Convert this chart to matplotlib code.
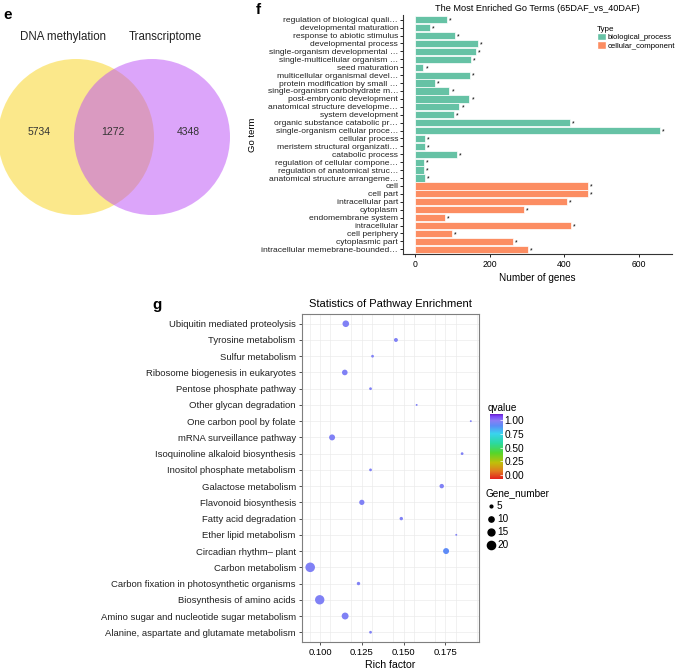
import numpy as np
import matplotlib
matplotlib.use('Agg')
import matplotlib.pyplot as plt
from matplotlib.patches import Circle, Patch
from matplotlib.lines import Line2D
from matplotlib.colors import LinearSegmentedColormap, Normalize
from matplotlib.cm import ScalarMappable

plt.rcParams['font.family'] = ['Liberation Sans', 'DejaVu Sans']

# ---- data ----
venn_names = ['DNA methylation', 'Transcriptome']
venn_counts = [5734, 1272, 4348]   # only A, A&B, only B

go_terms = ['regulation of biological quali…', 'developmental maturation',
            'response to abiotic stimulus', 'developmental process',
            'single-organism developmental …', 'single-multicellular organism …',
            'seed maturation', 'multicellular organismal devel…',
            'protein modification by small …', 'single-organism carbohydrate m…',
            'post-embryonic development', 'anatomical structure developme…',
            'system development', 'organic substance catabolic pr…',
            'single-organism cellular proce…', 'cellular process',
            'meristem structural organizati…', 'catabolic process',
            'regulation of cellular compone…', 'regulation of anatomical struc…',
            'anatomical structure arrangeme…',
            'cell', 'cell part', 'intracellular part', 'cytoplasm',
            'endomembrane system', 'intracellular', 'cell periphery',
            'cytoplasmic part', 'intracellular memebrane-bounded…']
go_counts = [85, 39, 107, 167, 163, 149, 22, 147, 52, 91, 145, 118, 104,
             414, 656, 26, 26, 112, 23, 23, 25,
             464, 464, 407, 291, 80, 418, 98, 262, 303]
go_types = ['biological_process'] * 21 + ['cellular_component'] * 9

pathways = ['Ubiquitin mediated proteolysis', 'Tyrosine metabolism',
            'Sulfur metabolism', 'Ribosome biogenesis in eukaryotes',
            'Pentose phosphate pathway', 'Other glycan degradation',
            'One carbon pool by folate', 'mRNA surveillance pathway',
            'Isoquinoline alkaloid biosynthesis', 'Inositol phosphate metabolism',
            'Galactose metabolism', 'Flavonoid biosynthesis',
            'Fatty acid degradation', 'Ether lipid metabolism',
            'Circadian rhythm\u2013 plant', 'Carbon metabolism',
            'Carbon fixation in photosynthetic organisms',
            'Biosynthesis of amino acids',
            'Amino sugar and nucleotide sugar metabolism',
            'Alanine, aspartate and glutamate metabolism']
rich_factor = [0.1154, 0.1454, 0.1314, 0.1148, 0.1302, 0.1578, 0.1902, 0.1072,
               0.1850, 0.1302, 0.1728, 0.1250, 0.1486, 0.1815, 0.1754, 0.0941,
               0.1230, 0.0998, 0.1150, 0.1302]
gene_number = [14, 7, 5, 11, 5, 4, 4, 12, 5, 5, 8, 10, 6, 4, 12, 26, 6, 25, 15, 5]
qvalue = [0.97, 0.97, 0.97, 0.97, 0.97, 0.97, 0.97, 0.97, 0.97, 0.97,
          0.97, 0.97, 0.97, 0.97, 0.90, 0.97, 0.97, 0.97, 0.97, 0.97]
size_breaks = [5, 10, 15, 20]

# ---- layout helpers (pixel boxes) ----
W, H = 677, 670
fig = plt.figure(figsize=(W / 100, H / 100), dpi=100)


def box(l, t, r, b):
    return [l / W, 1 - b / H, (r - l) / W, (b - t) / H]


def fx(x):
    return x / W


def fy(y):
    return 1 - y / H


# ================= e: venn =================
ax = fig.add_axes(box(0, 0, 330, 290))
ax.set_xlim(0, 330)
ax.set_ylim(290, 0)
ax.axis('off')
r = 78
ax.add_patch(Circle((76, 137), r, facecolor='#F9D319', alpha=0.5, lw=0))
ax.add_patch(Circle((152, 137), r, facecolor='#BB4DF7', alpha=0.5, lw=0))
ax.text(63, 37, venn_names[0], ha='center', va='center', fontsize=8.3, color='#222222')
ax.text(165, 37, venn_names[1], ha='center', va='center', fontsize=8.3, color='#222222')
for xpos, n in zip([39, 113, 188], venn_counts):
    ax.text(xpos, 132, str(n), ha='center', va='center', fontsize=7.5, color='#333333')
fig.text(fx(3), fy(15), 'e', fontsize=11, fontweight='bold', va='center')

# ================= f: GO bars =================
type_colors = {'biological_process': '#66C2A5', 'cellular_component': '#FC8D62'}
axf = fig.add_axes(box(403, 15, 672, 254))
yy = np.arange(len(go_terms))
axf.barh(yy, go_counts, height=0.92, color=[type_colors[t] for t in go_types],
         edgecolor='white', linewidth=0.5)
for yi, v in zip(yy, go_counts):
    axf.text(v + 6, yi + 0.15, '*', fontsize=5, va='center', ha='left')
axf.set_ylim(len(go_terms) - 0.4, -0.6)
axf.set_xlim(-33, 689)
axf.set_yticks(yy)
axf.set_yticklabels(go_terms, fontsize=6.1, color='#222222')
axf.set_xticks([0, 200, 400, 600])
axf.tick_params(axis='x', labelsize=6.2, length=2, width=0.6, pad=2)
axf.tick_params(axis='y', length=2, width=0.6, pad=1.5)
for s in ['top', 'right']:
    axf.spines[s].set_visible(False)
for s in ['left', 'bottom']:
    axf.spines[s].set_linewidth(0.8)
    axf.spines[s].set_color('#333333')
axf.set_xlabel('Number of genes', fontsize=7.2, labelpad=3)
axf.set_ylabel('Go term', fontsize=6.8, labelpad=3)
axf.set_title('The Most Enriched Go Terms (65DAF_vs_40DAF)', fontsize=6.6, pad=3)
handles = [Patch(facecolor=type_colors[k], edgecolor='white', label=k) for k in type_colors]
fig.legend(handles=handles, title='Type', loc='upper left',
           bbox_to_anchor=(fx(597), fy(26)), frameon=False, fontsize=5.6,
           title_fontsize=5.8, handlelength=1.1, handleheight=1.1, labelspacing=0,
           handletextpad=0.3, borderpad=0, borderaxespad=0, alignment='left')
fig.text(fx(256), fy(10), 'f', fontsize=11, fontweight='bold', va='center')

# ================= g: pathway bubbles =================
colors = [(0.00, '#E3231E'), (0.12, '#E07B1F'), (0.25, '#BFBF0A'),
          (0.40, '#55D62A'), (0.55, '#2BD9A0'), (0.70, '#39D3EE'),
          (0.82, '#5C8CF7'), (0.90, '#8A7EF4'), (0.97, '#7A42F8'),
          (1.00, '#6A1FC8')]
cmap = LinearSegmentedColormap.from_list('q', colors)
norm = Normalize(vmin=-0.067, vmax=1.108)


def dot_size(g):
    d_px = 2.0 * np.sqrt(np.asarray(g, float) - 3.1)
    return (d_px * 0.72) ** 2


axg = fig.add_axes(box(302, 314, 478.5, 642))
yg = np.arange(len(pathways))
axg.scatter(rich_factor, yg, s=dot_size(gene_number), c=qvalue, cmap=cmap,
            norm=norm, linewidths=0, zorder=3)
axg.set_ylim(len(pathways) - 0.4, -0.6)
axg.set_xlim(0.0892, 0.1948)
axg.set_yticks(yg)
axg.set_yticklabels(pathways, fontsize=6.6, color='#222222')
axg.set_xticks([0.100, 0.125, 0.150, 0.175])
axg.set_xticklabels(['0.100', '0.125', '0.150', '0.175'])
axg.set_xticks(np.arange(0.09375, 0.195, 0.0125), minor=True)
axg.tick_params(axis='x', which='minor', length=0)
axg.tick_params(axis='both', which='major', labelsize=6.8, length=2.5, width=0.6,
                color='#333333', pad=2)
axg.grid(True, which='both', color='#EBEBEB', linewidth=0.5, zorder=0)
axg.set_axisbelow(True)
for s in axg.spines.values():
    s.set_color('#7F7F7F')
    s.set_linewidth(0.8)
axg.set_xlabel('Rich factor', fontsize=7.6, labelpad=2)
axg.set_title('Statistics of Pathway Enrichment', fontsize=8, pad=5)
fig.text(fx(152), fy(305), 'g', fontsize=11, fontweight='bold', va='center')

# qvalue colour bar
cax = fig.add_axes(box(490, 414, 503, 479))
cb = fig.colorbar(ScalarMappable(norm=norm, cmap=cmap), cax=cax,
                  ticks=[0, 0.25, 0.5, 0.75, 1.0])
cb.ax.set_yticklabels(['0.00', '0.25', '0.50', '0.75', '1.00'])
cb.ax.tick_params(labelsize=7.3, length=2, color='white', width=0.5, pad=1,
                  direction='in')
cb.outline.set_visible(False)
fig.text(fx(488), fy(408), 'qvalue', fontsize=7.2, va='center')

# Gene_number size legend
size_handles = [Line2D([], [], linestyle='none', marker='o', color='black',
                       markersize=np.sqrt(dot_size(b)), label=str(b))
                for b in size_breaks]
fig.legend(handles=size_handles, title='Gene_number', loc='upper left',
           bbox_to_anchor=(fx(486), fy(488)), frameon=False, fontsize=7.2,
           title_fontsize=7.2, handlelength=0.9, handletextpad=0.2,
           labelspacing=0.3, borderpad=0, borderaxespad=0, alignment='left')

fig.savefig('out.png', dpi=100)
